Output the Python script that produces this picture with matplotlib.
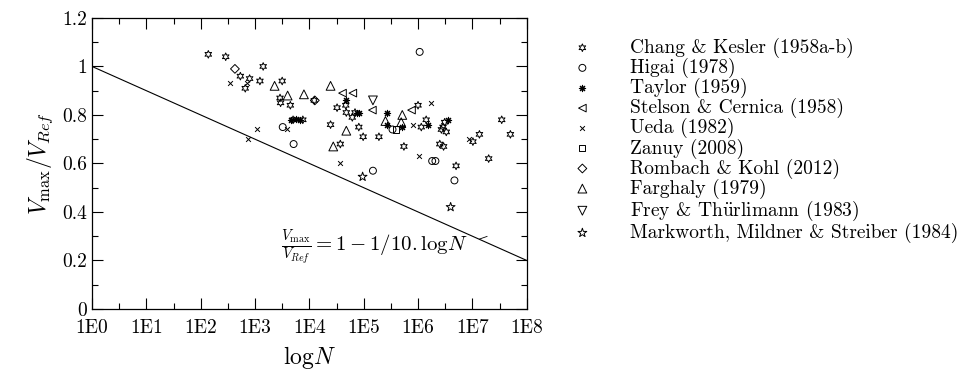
import numpy as np
import matplotlib
matplotlib.use("Agg")
import matplotlib.pyplot as plt

plt.rcParams['font.family'] = ['cmr10', 'DejaVu Serif']
plt.rcParams['mathtext.fontset'] = 'cm'
plt.rcParams['axes.formatter.use_mathtext'] = True

# data: x = log10(N), y = Vmax/VRef
chang_x = [2.14, 2.46, 2.73, 2.90, 2.82, 3.15, 3.09, 3.50, 3.46, 3.47, 3.65, 4.09, 3.70, 3.88,
           4.51, 4.67, 4.68, 4.84, 4.79, 4.39, 4.57, 4.91, 4.99, 5.28, 6.00, 6.06, 6.15, 6.43,
           6.49, 6.46, 6.52, 5.74, 6.40, 6.47, 6.70, 7.01, 7.13, 7.54, 7.70, 7.30]
chang_y = [1.05, 1.04, 0.96, 0.95, 0.91, 1.00, 0.94, 0.94, 0.87, 0.85, 0.84, 0.86, 0.78, 0.78,
           0.83, 0.84, 0.81, 0.81, 0.79, 0.76, 0.68, 0.75, 0.71, 0.71, 0.84, 0.75, 0.78, 0.74,
           0.77, 0.75, 0.73, 0.67, 0.68, 0.67, 0.59, 0.69, 0.72, 0.78, 0.72, 0.62]
higai_x = [6.03, 3.51, 3.71, 5.17, 6.26, 6.32, 6.67, 5.53]
higai_y = [1.06, 0.75, 0.68, 0.57, 0.61, 0.61, 0.53, 0.74]
taylor_x = [3.66, 3.75, 3.82, 4.67, 4.87, 4.92, 5.43, 5.42, 5.71, 6.18, 6.55]
taylor_y = [0.78, 0.785, 0.78, 0.86, 0.81, 0.81, 0.81, 0.76, 0.75, 0.76, 0.78]
stelson_x = [4.61, 4.80, 5.16, 5.88]
stelson_y = [0.89, 0.89, 0.82, 0.82]
ueda_x = [2.54, 2.86, 3.03, 2.87, 3.58, 4.56, 5.91, 6.24, 6.02, 6.94]
ueda_y = [0.93, 0.93, 0.74, 0.70, 0.74, 0.60, 0.76, 0.85, 0.63, 0.70]
zanuy_x = [5.60]
zanuy_y = [0.74]
rombach_x = [2.63, 4.10]
rombach_y = [0.99, 0.86]
farghaly_x = [3.36, 3.60, 3.90, 4.39, 5.40, 5.71, 5.69, 4.68, 4.44]
farghaly_y = [0.92, 0.88, 0.885, 0.92, 0.775, 0.80, 0.77, 0.735, 0.67]
frey_x = [5.17]
frey_y = [0.86]
markworth_x = [4.98, 6.60]
markworth_y = [0.545, 0.42]

xticks = [0, 1, 2, 3, 4, 5, 6, 7, 8]
xtick_labels = ['1E0', '1E1', '1E2', '1E3', '1E4', '1E5', '1E6', '1E7', '1E8']
yticks = [0, 0.2, 0.4, 0.6, 0.8, 1.0, 1.2]
ytick_labels = ['0', '0.2', '0.4', '0.6', '0.8', '1', '1.2']

fig = plt.figure(figsize=(9.79, 3.74), dpi=100)
ax = fig.add_axes([0.094, 0.174, 0.444, 0.778])

hollow = dict(facecolors='none', edgecolors='black', linewidths=0.7)
ax.scatter(chang_x, chang_y, marker=(6, 1, 0), s=30, label='Chang & Kesler (1958a-b)', **hollow)
ax.scatter(higai_x, higai_y, marker='o', s=25, label='Higai (1978)', **hollow)
ax.scatter(taylor_x, taylor_y, marker=(8, 2, 0), s=20, color='black', linewidths=0.8,
           label='Taylor (1959)')
ax.scatter(stelson_x, stelson_y, marker='<', s=30, label='Stelson & Cernica (1958)', **hollow)
ax.scatter(ueda_x, ueda_y, marker='x', s=12, color='black', linewidths=0.7, label='Ueda (1982)')
ax.scatter(zanuy_x, zanuy_y, marker='s', s=20, label='Zanuy (2008)', **hollow)
ax.scatter(rombach_x, rombach_y, marker='D', s=20, label='Rombach & Kohl (2012)', **hollow)
ax.scatter(farghaly_x, farghaly_y, marker='^', s=40, label='Farghaly (1979)', **hollow)
ax.scatter(frey_x, frey_y, marker='v', s=40, label=r'Frey & Th$\mathrm{\ddot{u}}$rlimann (1983)',
           **hollow)
ax.scatter(markworth_x, markworth_y, marker='*', s=45,
           label='Markworth, Mildner & Streiber (1984)', **hollow)

lx = np.array([0, 8])
ax.plot(lx, 1 - lx / 10, color='black', linewidth=0.8)
ax.text(3.47, 0.256, r'$\frac{V_{\max}}{V_{Ref}} = 1 - 1/10.\mathrm{log}N$', fontsize=15,
        va='center', ha='left')
ax.plot([7.13, 7.27], [0.288, 0.299], color='black', linewidth=0.6)

ax.set_xlim(0, 8)
ax.set_ylim(0, 1.2)
ax.set_xticks(xticks)
ax.set_xticklabels(xtick_labels)
ax.set_xticks(np.arange(0.5, 8, 1), minor=True)
ax.set_yticks(yticks)
ax.set_yticklabels(ytick_labels)
ax.set_yticks(np.arange(0.1, 1.2, 0.2), minor=True)
ax.tick_params(which='both', direction='in', top=True, right=True, labelsize=14)
ax.tick_params(which='major', length=8, width=0.8)
ax.tick_params(which='minor', length=4, width=0.8)
ax.tick_params(axis='x', pad=7)
for s in ax.spines.values():
    s.set_linewidth(0.9)

ax.set_xlabel(r'$\mathrm{log}N$', fontsize=17, labelpad=5)
ax.set_ylabel(r'$V_{\max}/V_{Ref}$', fontsize=17, labelpad=5)

fig.legend(loc='upper left', bbox_to_anchor=(0.575, 0.925), frameon=False, fontsize=14,
           handlelength=1.0, handletextpad=1.95, labelspacing=0.0, borderpad=0,
           scatterpoints=1)

fig.savefig('out.png', dpi=100)
